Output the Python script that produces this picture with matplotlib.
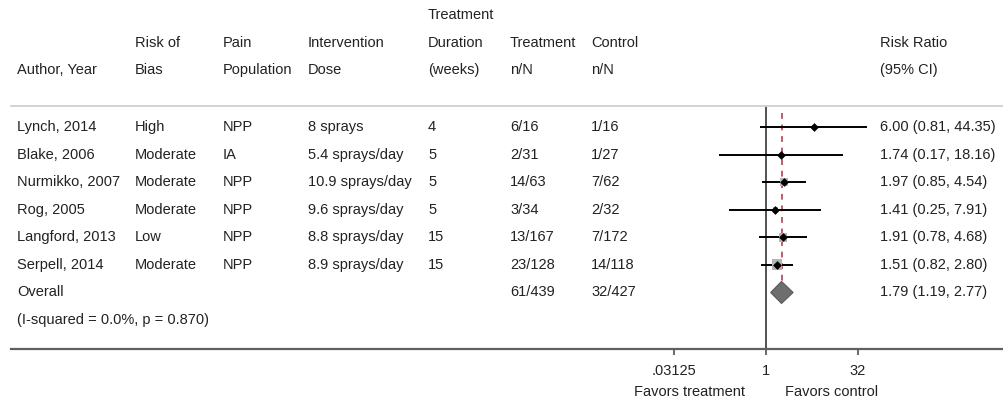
import matplotlib
matplotlib.use("Agg")
import matplotlib.pyplot as plt
import matplotlib.transforms as mtransforms
from matplotlib.patches import Polygon
import numpy as np

plt.rcParams["font.family"] = ["Liberation Sans", "DejaVu Sans"]

# --- data -------------------------------------------------------------------
authors = ["Lynch, 2014", "Blake, 2006", "Nurmikko, 2007", "Rog, 2005",
           "Langford, 2013", "Serpell, 2014"]
risk_of_bias = ["High", "Moderate", "Moderate", "Moderate", "Low", "Moderate"]
population = ["NPP", "IA", "NPP", "NPP", "NPP", "NPP"]
dose = ["8 sprays", "5.4 sprays/day", "10.9 sprays/day", "9.6 sprays/day",
        "8.8 sprays/day", "8.9 sprays/day"]
duration = ["4", "5", "5", "5", "15", "15"]
treat_nN = ["6/16", "2/31", "14/63", "3/34", "13/167", "23/128"]
ctrl_nN = ["1/16", "1/27", "7/62", "2/32", "7/172", "14/118"]
rr = [6.00, 1.74, 1.97, 1.41, 1.91, 1.51]
rr_lo = [0.81, 0.17, 0.85, 0.25, 0.78, 0.82]
rr_hi = [44.35, 18.16, 4.54, 7.91, 4.68, 2.80]
weights = [3.8, 3.3, 24.0, 7.6, 22.7, 38.6]   # % weight, drives box size

overall_treat = "61/439"
overall_ctrl = "32/427"
overall_rr, overall_lo, overall_hi = 1.79, 1.19, 2.77
heterogeneity = "(I-squared = 0.0%, p = 0.870)"

xticks = [1 / 32, 1, 32]
xtick_labels = [".03125", "1", "32"]

# --- layout (pixels of a 1004x409 canvas) -----------------------------------
W, H = 1004, 409
TXT = "#222222"
FS = 10.5


def fx(px):
    return px / W


def fy(py):
    return 1 - py / H


fig = plt.figure(figsize=(W / 100, H / 100), dpi=100)
ax = fig.add_axes([fx(11), fy(349), fx(1004 - 11), (349 - 105.5) / H])

ax.set_xscale("log", base=2)
ax.set_xlim(2 ** -41.03, 2 ** 12.93)
ax.set_ylim(8.05, -0.78)

for s in ("left", "right"):
    ax.spines[s].set_visible(False)
ax.spines["top"].set_color("#d0d0d0")
ax.spines["top"].set_linewidth(1.3)
ax.spines["bottom"].set_color("#606060")
ax.spines["bottom"].set_linewidth(1.6)

ax.set_yticks([])
ax.set_xticks(xticks)
ax.set_xticklabels(xtick_labels)
ax.xaxis.set_minor_locator(matplotlib.ticker.NullLocator())
ax.tick_params(axis="x", direction="out", length=4, width=1.1,
               color="#404040", labelsize=FS, labelcolor=TXT, pad=7)

# line of no effect and overall estimate
ax.axvline(1, color="#333333", lw=1.2, zorder=2)
ax.vlines(overall_rr, -0.5, 6 - 0.4, colors="#b5505e", lw=1.3,
          linestyles=(0, (3.2, 3.2)), zorder=2)

rows = np.arange(len(authors))
ax.hlines(rows, rr_lo, rr_hi, colors="black", lw=1.4, zorder=3)
ax.scatter(rr, rows, marker="s", s=np.array(weights) * 1.6,
           color="#b4b4b4", zorder=3, linewidths=0)
ax.scatter(rr, rows, marker="D", s=20, color="black", zorder=4,
           linewidths=0)

oy = len(authors)
diamond = Polygon([(overall_lo, oy), (overall_rr, oy - 0.4),
                   (overall_hi, oy), (overall_rr, oy + 0.4)],
                  closed=True, facecolor="#6e6e6e", edgecolor="#5a5a5a",
                  lw=0.8, zorder=4)
ax.add_patch(diamond)

# --- text table -------------------------------------------------------------
tr = mtransforms.blended_transform_factory(fig.transFigure, ax.transData)
col_x = [17, 135, 223, 308, 428, 510, 591, 880]

for i in rows:
    vals = [authors[i], risk_of_bias[i], population[i], dose[i],
            duration[i], treat_nN[i], ctrl_nN[i],
            f"{rr[i]:.2f} ({rr_lo[i]:.2f}, {rr_hi[i]:.2f})"]
    for x, v in zip(col_x, vals):
        ax.text(fx(x), i, v, transform=tr, ha="left", va="center",
                fontsize=FS, color=TXT)

overall_vals = {17: "Overall", 510: overall_treat, 591: overall_ctrl,
                880: f"{overall_rr:.2f} ({overall_lo:.2f}, {overall_hi:.2f})"}
for x, v in overall_vals.items():
    ax.text(fx(x), oy, v, transform=tr, ha="left", va="center",
            fontsize=FS, color=TXT)
ax.text(fx(17), oy + 1, heterogeneity, transform=tr, ha="left",
        va="center", fontsize=FS, color=TXT)

# header
headers = [
    (17, ["", "", "Author, Year"]),
    (135, ["", "Risk of", "Bias"]),
    (223, ["", "Pain", "Population"]),
    (308, ["", "Intervention", "Dose"]),
    (428, ["Treatment", "Duration", "(weeks)"]),
    (510, ["", "Treatment", "n/N"]),
    (591, ["", "Control", "n/N"]),
    (880, ["", "Risk Ratio", "(95% CI)"]),
]
header_y = [15, 43, 70]
for x, lines in headers:
    for py, t in zip(header_y, lines):
        if t:
            fig.text(fx(x), fy(py), t, ha="left", va="center",
                     fontsize=FS, color=TXT)

fig.text(fx(745), fy(392), "Favors treatment", ha="right", va="center",
         fontsize=FS, color=TXT)
fig.text(fx(785), fy(392), "Favors control", ha="left", va="center",
         fontsize=FS, color=TXT)

fig.savefig("out.png", dpi=100, facecolor="white")
